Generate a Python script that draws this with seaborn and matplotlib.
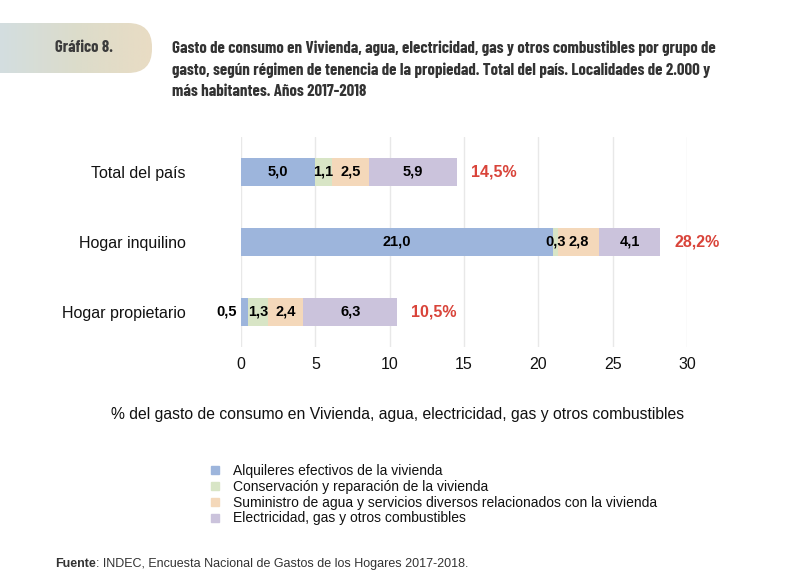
import numpy as np
import pandas as pd
import matplotlib.pyplot as plt
import seaborn as sns
from matplotlib.patches import FancyBboxPatch
from matplotlib.lines import Line2D
from matplotlib.colors import LinearSegmentedColormap

# datos (% del gasto de consumo)
grupos = ['Total del país', 'Hogar inquilino', 'Hogar propietario']
rubros = ['Alquileres efectivos de la vivienda',
          'Conservación y reparación de la vivienda',
          'Suministro de agua y servicios diversos relacionados con la vivienda',
          'Electricidad, gas y otros combustibles']
alquileres = [5.0, 21.0, 0.5]
conservacion = [1.1, 0.3, 1.3]
suministro = [2.5, 2.8, 2.4]
electricidad = [5.9, 4.1, 6.3]
totales = [14.5, 28.2, 10.5]
colores = ['#9db5dc', '#d8e5c6', '#f4d8ba', '#cbc3dc']
titulo = ['Gasto de consumo en Vivienda, agua, electricidad, gas y otros combustibles por grupo de',
          'gasto, según régimen de tenencia de la propiedad. Total del país. Localidades de 2.000 y',
          'más habitantes. Años 2017-2018']

def coma(v):
    return f'{v:.1f}'.replace('.', ',')

sns.set_theme(style='white')
plt.rcParams['font.family'] = ['Liberation Sans', 'DejaVu Sans']
condensada = ['Barlow Condensed', 'Roboto Condensed', 'Archivo Narrow',
              'Liberation Sans', 'DejaVu Sans']

W, H = 790, 579
fig = plt.figure(figsize=(W / 100, H / 100), dpi=100)

def ajustar(t, ancho):
    # escala la fuente para que el texto ocupe el ancho del original
    fig.canvas.draw()
    w = t.get_window_extent().width
    t.set_fontsize(t.get_fontsize() * ancho / w)

# banda del encabezado
bg = fig.add_axes([0, 0, 1, 1], zorder=-1)
grad = np.linspace(0, 1, 256).reshape(1, -1)
cmap = LinearSegmentedColormap.from_list('banda', ['#d3dee0', '#dcdccb', '#e9dcc4'])
im = bg.imshow(grad, extent=[0, 152, 73, 23], cmap=cmap, aspect='auto')
pill = FancyBboxPatch((-40, 23), 192, 50, boxstyle='round,pad=0,rounding_size=24',
                      transform=bg.transData, fc='none', ec='none')
bg.add_patch(pill)
im.set_clip_path(pill)
bg.set_xlim(0, W)
bg.set_ylim(H, 0)
bg.axis('off')

g = fig.text(55 / W, 1 - 48 / H, 'Gráfico 8.', family=condensada, weight='bold',
             fontsize=11, color='#3b3b3b', va='center')
ajustar(g, 58)
lineas = []
for k, (linea, y) in enumerate(zip(titulo, [48, 70, 91])):
    lineas.append(fig.text(172 / W, 1 - y / H, linea, family=condensada, weight='bold',
                           fontsize=11, color='#333333', va='center'))
ajustar(lineas[0], 546)
for t in lineas[1:]:
    t.set_fontsize(lineas[0].get_fontsize())

# barras apiladas
ax = fig.add_axes([241 / W, 1 - 347 / H, 446 / W, 210 / H])
df = pd.DataFrame({'grupo': grupos, 'a': alquileres, 'c': conservacion,
                   's': suministro, 'e': electricidad})
cols = ['a', 'c', 's', 'e']
cum = df[cols].cumsum(axis=1)
cum['grupo'] = grupos
for i in reversed(range(len(cols))):
    sns.barplot(data=cum, x=cols[i], y='grupo', order=grupos, color=colores[i],
                orient='h', width=0.4, saturation=1, linewidth=0, ax=ax)

for j in range(len(grupos)):
    for i, c in enumerate(cols):
        v = df[c][j]
        fin = cum[c][j]
        if i == 0 and v < 0.8:
            ax.text(-0.3, j, coma(v), ha='right', va='center', fontsize=10.5,
                    weight='bold', color='black')
        else:
            ax.text(fin - v / 2, j, coma(v), ha='center', va='center', fontsize=10.5,
                    weight='bold', color='black')
    ax.text(totales[j] + 0.95, j, coma(totales[j]) + '%', ha='left', va='center',
            fontsize=11.5, weight='bold', color='#d9443a')

ax.set_xlim(0, 30)
ax.set_ylim(2.5, -0.5)
ax.set_xticks(range(0, 31, 5))
ax.grid(axis='x', color='#e8e8e8', lw=1)
ax.set_axisbelow(True)
for s in ax.spines.values():
    s.set_visible(False)
ax.tick_params(axis='x', length=0, pad=7, labelsize=11.5, labelcolor='#111111')
ax.tick_params(axis='y', length=0, pad=40, labelsize=11.5, labelcolor='#111111')
ax.set_xlabel('')
ax.set_ylabel('')

fig.text(398 / W, 1 - 414 / H,
         '% del gasto de consumo en Vivienda, agua, electricidad, gas y otros combustibles',
         ha='center', va='center', fontsize=11.3, color='#111111')

# leyenda
handles = [Line2D([], [], marker='s', ls='', color=c, markersize=6) for c in colores]
fig.legend(handles, rubros, loc='upper left', bbox_to_anchor=(209 / W, 1 - 464 / H),
           frameon=False, fontsize=10, handlelength=0.8, handletextpad=0.9,
           labelspacing=0.13, borderaxespad=0, borderpad=0, labelcolor='#111111')

# fuente
t = fig.text(55 / W, 1 - 564 / H, 'Fuente', weight='bold', fontsize=9,
             color='#333333', va='center')
fig.canvas.draw()
bb = t.get_window_extent()
fig.text(bb.x1 / W, 1 - 564 / H, ': INDEC, Encuesta Nacional de Gastos de los Hogares 2017-2018.',
         fontsize=9, color='#333333', va='center')

fig.savefig('out.png', dpi=100)
